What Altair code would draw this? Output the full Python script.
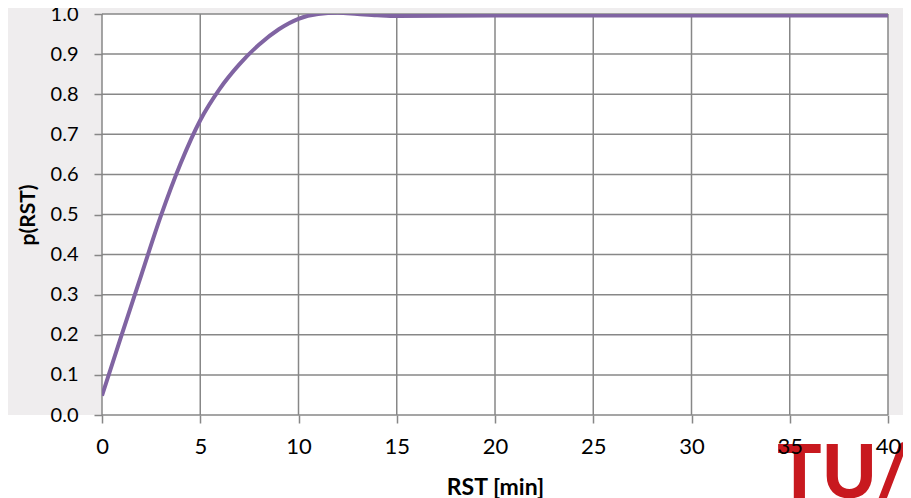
import altair as alt
import pandas as pd

# Curve values
rst_min = [0, 1, 2, 3, 4, 5, 6, 7, 8, 9, 10, 11, 12, 13, 14, 15, 20, 25, 30, 35, 40]
p_rst = [0.048, 0.200, 0.349, 0.497, 0.627, 0.735, 0.814, 0.875, 0.924, 0.962, 0.988,
         1.0, 1.003, 1.0, 0.997, 0.995, 0.996, 0.996, 0.996, 0.996, 0.996]

x_ticks = [0, 5, 10, 15, 20, 25, 30, 35, 40]
y_ticks = [0.0, 0.1, 0.2, 0.3, 0.4, 0.5, 0.6, 0.7, 0.8, 0.9, 1.0]
logo_text = ["TU/e"]

W, H = 786, 401
GRID = "#878787"
FONT = "Lato"

curve = pd.DataFrame({"rst": rst_min, "p": p_rst})
xt = pd.DataFrame({"rst": x_ticks})
yt = pd.DataFrame({"p": y_ticks})
logo = pd.DataFrame({"t": logo_text})

xscale = alt.Scale(domain=[0, 40], nice=False, zero=False)
yscale = alt.Scale(domain=[0, 1], nice=False)

xaxis = alt.Axis(values=x_ticks, format="d", title="RST [min]", zindex=2,
                 labelFontSize=22, titleFontSize=23,
                 labelPadding=13, labelFlush=False, titleX=W / 2, titleY=72,
                 titleBaseline="middle")
yaxis = alt.Axis(values=y_ticks, format=".1f", title="p(RST)", zindex=2,
                 labelFontSize=20, titleFontSize=21,
                 labelPadding=16, labelFlush=False, titleX=-74, titleY=H / 2,
                 titleBaseline="middle", titleAngle=-90)

bottom_white = alt.Chart(pd.DataFrame({"a": [0]})).mark_rect(
    color="white", clip=False
).encode(
    x=alt.value(-200), x2=alt.value(1000), y=alt.value(H), y2=alt.value(H + 200)
)

vrules = alt.Chart(xt).mark_rule(color=GRID, strokeWidth=1.5).encode(
    x=alt.X("rst:Q", scale=xscale, axis=xaxis)
)
hrules = alt.Chart(yt).mark_rule(color=GRID, strokeWidth=1.5).encode(
    y=alt.Y("p:Q", scale=yscale, axis=yaxis)
)

line = alt.Chart(curve).mark_line(
    color="#8064a2", strokeWidth=4, interpolate="monotone", clip=True
).encode(
    x=alt.X("rst:Q", scale=xscale, axis=xaxis),
    y=alt.Y("p:Q", scale=yscale, axis=yaxis),
)

logo_mark = alt.Chart(logo).mark_text(
    color="#c8191f", fontSize=74, fontWeight=900, font=FONT,
    align="left", baseline="alphabetic", clip=False
).encode(
    text="t:N", x=alt.value(675), y=alt.value(484)
)

chart = alt.layer(bottom_white, vrules, hrules, line, logo_mark).properties(
    width=W, height=H,
    autosize=alt.AutoSizeParams(type="none"),
    padding={"left": 94, "top": 6, "right": 15, "bottom": 83},
    background="#efedee",
).configure_view(
    fill="white", stroke=None
).configure_axis(
    grid=False, domain=False,
    tickColor=GRID, tickWidth=1.5, tickSize=8,
    labelFont=FONT, labelColor="black",
    titleFont=FONT, titleFontWeight="bold", titleColor="black",
)

chart.save("out.html", embed_options={"renderer": "svg", "actions": False})
